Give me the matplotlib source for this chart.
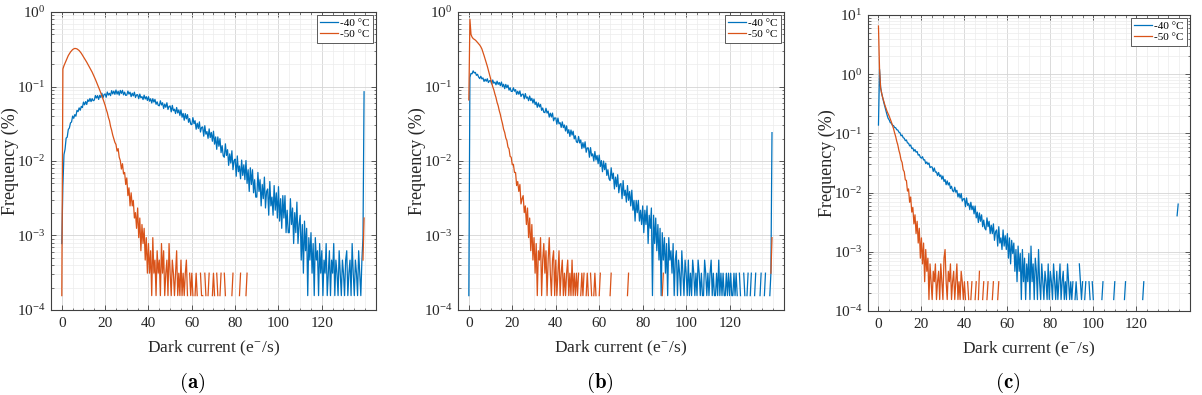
import numpy as np
import matplotlib
matplotlib.use("Agg")
import matplotlib.pyplot as plt
from matplotlib.ticker import MultipleLocator, LogLocator, NullFormatter

plt.rcParams["font.family"] = ["Liberation Serif", "DejaVu Serif"]
plt.rcParams["mathtext.fontset"] = "cm"

# bin positions of the dark current histograms (e-/s); the last bin is the overflow
dark = np.arange(0, 140, 0.5)

# one pixel expressed in % of the sensor
pix_pct = 1.56e-4

# pixel counts per bin (0 = empty bin), 10 bins = 5 e-/s per row
# (a)
a40 = [5, 30, 78, 92, 130, 134, 170, 178, 208, 214,
       257, 240, 269, 256, 306, 295, 331, 308, 347, 334,
       396, 364, 402, 368, 426, 403, 443, 402, 441, 413,
       421, 485, 449, 484, 430, 487, 457, 521, 452, 498,
       510, 460, 541, 492, 520, 483, 564, 510, 556, 503,
       575, 506, 554, 491, 568, 518, 570, 495, 539, 487,
       492, 557, 507, 538, 469, 521, 480, 538, 457, 495,
       498, 440, 507, 452, 469, 428, 490, 436, 468, 416,
       468, 407, 439, 385, 440, 396, 430, 370, 399, 358,
       353, 412, 362, 388, 325, 372, 337, 388, 315, 347,
       351, 293, 358, 303, 318, 278, 335, 283, 311, 262,
       312, 248, 279, 226, 277, 236, 269, 212, 238, 200,
       197, 245, 203, 223, 171, 206, 175, 215, 157, 181,
       184, 138, 191, 147, 159, 129, 173, 132, 155, 118,
       161, 108, 135, 92, 135, 101, 128, 83, 103, 75,
       72, 109, 76, 91, 56, 80, 60, 88, 49, 65,
       68, 40, 75, 46, 55, 37, 66, 41, 57, 36,
       65, 32, 49, 25, 52, 31, 49, 24, 36, 21,
       21, 45, 25, 36, 16, 31, 20, 39, 15, 25,
       27, 12, 34, 16, 21, 12, 30, 14, 24, 11,
       29, 10, 20, 8, 22, 11, 22, 7, 14, 7,
       7, 20, 9, 15, 5, 13, 7, 18, 5, 9,
       12, 3, 9, 2, 10, 4, 8, 1, 6, 3,
       7, 2, 5, 1, 6, 3, 4, 1, 5, 2,
       4, 1, 3, 2, 5, 1, 2, 4, 1, 3,
       2, 5, 1, 3, 2, 1, 4, 2, 1, 3,
       2, 1, 3, 4, 1, 2, 3, 1, 5, 2,
       1, 3, 2, 1, 4, 2, 1, 3, 6, 545]
a50 = [1, 1100, 1220, 1320, 1420, 1545, 1670, 1765, 1860, 1935,
       2010, 2050, 2080, 2070, 2050, 2000, 1950, 1870, 1790, 1695,
       1600, 1520, 1440, 1360, 1280, 1210, 1140, 1070, 1000, 930,
       865, 800, 737, 680, 622, 574, 526, 481, 436, 397,
       359, 316, 286, 247, 223, 187, 166, 143, 128, 114,
       107, 87, 94, 72, 65, 50, 59, 43, 45, 31,
       38, 22, 28, 16, 24, 16, 19, 11, 13, 8,
       15, 6, 11, 4, 9, 5, 8, 3, 6, 2,
       5, 2, 4, 1, 6, 2, 3, 1, 4, 2,
       3, 1, 5, 2, 4, 1, 2, 3, 1, 5,
       2, 1, 3, 2, 1, 2, 4, 1, 2, 1,
       3, 1, 2, 1, 2, 3, 1, 0, 2, 1,
       2, 1, 0, 1, 2, 1, 0, 0, 2, 1,
       1, 0, 2, 1, 0, 1, 2, 0, 0, 1,
       2, 1, 0, 2, 1, 0, 1, 2, 0, 0,
       2, 1, 0, 0, 0, 0, 0, 1, 2, 0,
       0, 0, 0, 0, 1, 2, 0, 0, 0, 0,
       1, 2, 0, 0, 0, 0, 0, 0, 0, 0] + [0] * 98 + [3, 11]

# (b)
b40 = [1, 850, 960, 950, 1040, 975, 992, 905, 935, 860,
       819, 880, 811, 836, 750, 803, 754, 815, 724, 765,
       771, 693, 784, 710, 734, 676, 756, 684, 727, 657,
       736, 639, 687, 600, 684, 617, 669, 573, 617, 551,
       551, 616, 555, 582, 503, 553, 505, 559, 471, 504,
       506, 438, 515, 447, 464, 413, 478, 415, 445, 385,
       435, 367, 396, 337, 386, 341, 369, 307, 330, 289,
       286, 327, 282, 300, 249, 281, 250, 282, 222, 243,
       242, 200, 242, 202, 210, 181, 215, 180, 195, 162,
       190, 151, 169, 137, 167, 143, 161, 127, 140, 116,
       113, 137, 112, 123, 94, 113, 96, 116, 84, 96,
       96, 72, 97, 75, 80, 64, 86, 66, 76, 59,
       77, 54, 65, 46, 64, 49, 60, 41, 49, 37,
       35, 52, 37, 44, 27, 39, 29, 42, 24, 31,
       32, 20, 35, 22, 26, 18, 30, 19, 25, 16,
       26, 14, 19, 10, 19, 13, 19, 10, 14, 9,
       16, 7, 14, 9, 16, 5, 12, 8, 15, 1,
       12, 5, 11, 4, 9, 3, 8, 1, 7, 3,
       6, 2, 5, 1, 6, 3, 4, 2, 5, 1,
       3, 4, 1, 3, 2, 1, 4, 2, 1, 3,
       2, 1, 3, 1, 2, 1, 3, 2, 1, 2,
       1, 3, 2, 1, 2, 1, 1, 3, 2, 1,
       2, 1, 2, 3, 1, 2, 1, 1, 2, 1,
       3, 1, 2, 1, 2, 1, 1, 2, 1, 2,
       1, 2, 1, 1, 2, 1, 2, 1, 0, 2,
       1, 0, 0, 2, 1, 0, 1, 2, 0, 1,
       2, 0, 0, 1, 2, 0, 0, 0, 1, 2,
       0, 0, 1, 2, 0, 0, 0, 1, 2, 154]
b50 = [423, 5130, 3200, 2950, 2820, 2750, 2690, 2600, 2500, 2400,
       2310, 2190, 2050, 1860, 1670, 1500, 1350, 1200, 1060, 940,
       833, 736, 637, 578, 508, 455, 392, 354, 304, 270,
       231, 203, 171, 155, 131, 121, 99, 93, 74, 72,
       57, 58, 45, 45, 30, 34, 25, 31, 17, 20,
       22, 13, 16, 9, 15, 6, 11, 4, 9, 3,
       6, 2, 5, 1, 4, 3, 6, 1, 3, 5,
       2, 4, 1, 3, 6, 2, 1, 3, 4, 1,
       3, 1, 2, 4, 1, 2, 3, 1, 2, 1,
       2, 3, 1, 2, 1, 3, 1, 2, 1, 2,
       1, 2, 0, 1, 2, 1, 2, 0, 1, 2,
       1, 0, 2, 1, 0, 1, 2, 1, 0, 0,
       1, 2, 0, 0, 0, 0, 0, 0, 0, 0,
       1, 2, 0, 0, 0, 0, 0, 0, 0, 0,
       0, 0, 0, 0, 0, 0, 1, 2, 0, 0,
       0, 0, 0, 0, 0, 0, 0, 0, 0, 0,
       0, 0, 0, 0, 0, 0, 0, 0, 0, 0,
       0, 0, 0, 0, 0, 0, 0, 0, 1, 2] + [0] * 98 + [2, 6]

# (c)
c40 = [885, 7760, 3850, 3010, 2500, 2115, 1800, 1540, 1310, 1150,
       1080, 975, 950, 875, 870, 805, 798, 738, 730, 672,
       659, 584, 601, 541, 531, 482, 496, 442, 437, 393,
       408, 356, 363, 321, 342, 309, 317, 275, 281, 253,
       244, 259, 228, 230, 198, 211, 192, 203, 169, 175,
       173, 146, 167, 142, 143, 124, 140, 120, 127, 108,
       122, 99, 106, 87, 101, 86, 94, 75, 82, 69,
       66, 79, 65, 70, 54, 62, 52, 62, 46, 50,
       51, 37, 52, 39, 42, 33, 44, 33, 38, 28,
       38, 24, 30, 20, 29, 21, 27, 17, 22, 16,
       15, 24, 17, 21, 13, 18, 13, 19, 10, 14,
       15, 8, 17, 9, 11, 7, 15, 8, 12, 7,
       13, 5, 11, 4, 10, 6, 9, 3, 7, 2,
       8, 3, 6, 1, 7, 2, 5, 1, 4, 2,
       6, 1, 8, 2, 4, 1, 5, 3, 1, 7,
       2, 1, 4, 2, 1, 3, 2, 1, 4, 1,
       3, 2, 1, 4, 2, 1, 3, 1, 2, 4,
       1, 2, 3, 1, 2, 1, 4, 2, 1, 2,
       1, 2, 0, 1, 2, 1, 0, 4, 2, 1,
       2, 0, 1, 2, 0, 0, 2, 1, 0, 2,
       1, 0, 0, 0, 0, 0, 0, 0, 1, 2,
       0, 0, 0, 0, 0, 0, 0, 0, 0, 1,
       2, 0, 0, 0, 0, 0, 0, 0, 0, 1,
       2, 0, 0, 0, 0, 0, 0, 0, 0, 0,
       0, 0, 0, 0, 0, 0, 1, 2, 0, 0] + [0] * 28 + [26, 41]
c50 = [41700, 7800, 3720, 3050, 2560, 2220, 1920, 1700, 1510, 1370,
       1250, 1115, 998, 876, 774, 655, 568, 472, 409, 333,
       285, 229, 207, 156, 144, 105, 103, 68, 74, 44,
       54, 30, 36, 19, 27, 13, 21, 9, 16, 5,
       11, 4, 9, 2, 7, 3, 5, 1, 4, 2,
       1, 3, 2, 4, 1, 2, 3, 1, 4, 2,
       1, 5, 7, 2, 1, 3, 2, 4, 1, 2,
       3, 1, 2, 4, 1, 2, 1, 3, 2, 1,
       2, 1, 0, 2, 1, 0, 1, 2, 0, 0,
       1, 2, 0, 1, 3, 0, 0, 1, 2, 0,
       0, 1, 2, 0, 0, 0, 1, 2, 0, 0,
       0, 1, 2, 0, 0, 0, 0, 0, 0, 0] + [0] * 160

labels = ["-40 \u00b0C", "-50 \u00b0C"]
panels = ["(a)", "(b)", "(c)"]
y_tops = [1e0, 1e0, 1e1]

blue = "#0072BD"
orange = "#D95319"
spine = "#404040"

fig = plt.figure(figsize=(12.02, 3.95), dpi=100)
boxes = [[0.0424, 0.2152, 0.2704, 0.7544],
         [0.3810, 0.2152, 0.2712, 0.7544],
         [0.7219, 0.2127, 0.2681, 0.7494]]
label_x = [192 / 1202, 600 / 1202, 1008 / 1202]

data = [(a40, a50), (b40, b50), (c40, c50)]

for i, (s40, s50) in enumerate(data):
    ax = fig.add_axes(boxes[i])
    for counts, col, lab in [(s40, blue, labels[0]), (s50, orange, labels[1])]:
        y = np.asarray(counts, dtype=float) * pix_pct
        y[y <= 0] = np.nan
        ax.plot(dark, y, color=col, lw=0.9, label=lab)

    ax.set_yscale("log")
    ax.set_ylim(1e-4, y_tops[i])
    ax.set_xlim(-5, 145)
    ax.set_xticks(np.arange(0, 121, 20))
    ax.xaxis.set_minor_locator(MultipleLocator(5))
    ax.yaxis.set_major_locator(LogLocator(base=10, numticks=10))
    ax.yaxis.set_minor_locator(LogLocator(base=10, subs=np.arange(2, 10), numticks=20))
    ax.yaxis.set_minor_formatter(NullFormatter())

    ax.grid(True, which="major", color="#d4d4d4", lw=0.6)
    ax.grid(True, which="minor", color="#ececec", lw=0.5)
    ax.set_axisbelow(True)

    ax.tick_params(which="both", direction="in", top=True, right=True, colors=spine)
    ax.tick_params(which="major", length=3.5, width=0.6)
    ax.tick_params(which="minor", length=1.8, width=0.5)
    ax.tick_params(axis="x", labelsize=11, pad=5, labelcolor="#262626")
    ax.tick_params(axis="y", labelsize=11, pad=4, labelcolor="#262626")
    for sp in ax.spines.values():
        sp.set_color(spine)
        sp.set_linewidth(0.8)

    ax.set_xlabel(r"Dark current (e$^{\mathdefault{-}}$/s)", fontsize=12.5, color="#262626")
    ax.set_ylabel("Frequency (%)", fontsize=13, color="#262626")
    ax.xaxis.set_label_coords(0.5, -0.098)
    ax.yaxis.set_label_coords(-0.097, 0.5)

    leg = ax.legend(loc="upper right", fontsize=8, frameon=True, fancybox=False,
                    framealpha=1, edgecolor=spine, borderaxespad=0.25,
                    handlelength=1.6, handletextpad=0.2, borderpad=0.3,
                    labelspacing=0.15)
    leg.get_frame().set_linewidth(0.6)

    fig.text(label_x[i], 1 - 383 / 395, r"$\mathbf{" + panels[i] + "}$",
             ha="center", va="center", fontsize=15)

fig.savefig("out.png", dpi=100)
